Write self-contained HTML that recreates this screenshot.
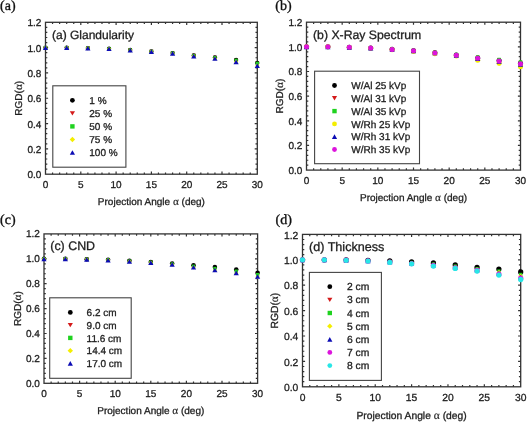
<!DOCTYPE html>
<html><head><meta charset="utf-8"><style>
html,body{margin:0;padding:0;background:#fff;width:528px;height:425px;overflow:hidden}
svg{display:block;will-change:transform}
svg text{text-rendering:geometricPrecision;font-family:"Liberation Sans",sans-serif;fill:#1e1e1e;stroke:#1e1e1e;stroke-width:0.3px}
svg tspan.al{font-family:"Liberation Serif",serif;stroke-width:0.15px;font-size:1.12em}
svg text.serif{font-family:"Liberation Serif",serif;fill:#111;stroke:#111;stroke-width:0.35px}
</style></head><body>
<svg width="528" height="425" viewBox="0 0 528 425">
<rect width="100%" height="100%" fill="#fff"/>
<text x="0" y="9.6" class="serif" font-size="14">(a)</text>
<rect x="45.50" y="22.30" width="211.80" height="151.90" fill="none" stroke="#333" stroke-width="1.3"/>
<path d="M52.56,174.20v-1.8M52.56,22.30v1.8M59.62,174.20v-1.8M59.62,22.30v1.8M66.68,174.20v-1.8M66.68,22.30v1.8M73.74,174.20v-1.8M73.74,22.30v1.8M80.80,174.20v-2.6M80.80,22.30v2.6M87.86,174.20v-1.8M87.86,22.30v1.8M94.92,174.20v-1.8M94.92,22.30v1.8M101.98,174.20v-1.8M101.98,22.30v1.8M109.04,174.20v-1.8M109.04,22.30v1.8M116.10,174.20v-2.6M116.10,22.30v2.6M123.16,174.20v-1.8M123.16,22.30v1.8M130.22,174.20v-1.8M130.22,22.30v1.8M137.28,174.20v-1.8M137.28,22.30v1.8M144.34,174.20v-1.8M144.34,22.30v1.8M151.40,174.20v-2.6M151.40,22.30v2.6M158.46,174.20v-1.8M158.46,22.30v1.8M165.52,174.20v-1.8M165.52,22.30v1.8M172.58,174.20v-1.8M172.58,22.30v1.8M179.64,174.20v-1.8M179.64,22.30v1.8M186.70,174.20v-2.6M186.70,22.30v2.6M193.76,174.20v-1.8M193.76,22.30v1.8M200.82,174.20v-1.8M200.82,22.30v1.8M207.88,174.20v-1.8M207.88,22.30v1.8M214.94,174.20v-1.8M214.94,22.30v1.8M222.00,174.20v-2.6M222.00,22.30v2.6M229.06,174.20v-1.8M229.06,22.30v1.8M236.12,174.20v-1.8M236.12,22.30v1.8M243.18,174.20v-1.8M243.18,22.30v1.8M250.24,174.20v-1.8M250.24,22.30v1.8M45.50,169.14h1.8M257.30,169.14h-1.8M45.50,164.07h1.8M257.30,164.07h-1.8M45.50,159.01h1.8M257.30,159.01h-1.8M45.50,153.95h1.8M257.30,153.95h-1.8M45.50,148.88h2.6M257.30,148.88h-2.6M45.50,143.82h1.8M257.30,143.82h-1.8M45.50,138.76h1.8M257.30,138.76h-1.8M45.50,133.69h1.8M257.30,133.69h-1.8M45.50,128.63h1.8M257.30,128.63h-1.8M45.50,123.57h2.6M257.30,123.57h-2.6M45.50,118.50h1.8M257.30,118.50h-1.8M45.50,113.44h1.8M257.30,113.44h-1.8M45.50,108.38h1.8M257.30,108.38h-1.8M45.50,103.31h1.8M257.30,103.31h-1.8M45.50,98.25h2.6M257.30,98.25h-2.6M45.50,93.19h1.8M257.30,93.19h-1.8M45.50,88.12h1.8M257.30,88.12h-1.8M45.50,83.06h1.8M257.30,83.06h-1.8M45.50,78.00h1.8M257.30,78.00h-1.8M45.50,72.93h2.6M257.30,72.93h-2.6M45.50,67.87h1.8M257.30,67.87h-1.8M45.50,62.81h1.8M257.30,62.81h-1.8M45.50,57.74h1.8M257.30,57.74h-1.8M45.50,52.68h1.8M257.30,52.68h-1.8M45.50,47.62h2.6M257.30,47.62h-2.6M45.50,42.55h1.8M257.30,42.55h-1.8M45.50,37.49h1.8M257.30,37.49h-1.8M45.50,32.43h1.8M257.30,32.43h-1.8M45.50,27.36h1.8M257.30,27.36h-1.8" stroke="#333" stroke-width="1.2" fill="none"/>
<text x="41.30" y="178.30" text-anchor="end" font-size="10">0.0</text>
<text x="41.30" y="152.98" text-anchor="end" font-size="10">0.2</text>
<text x="41.30" y="127.67" text-anchor="end" font-size="10">0.4</text>
<text x="41.30" y="102.35" text-anchor="end" font-size="10">0.6</text>
<text x="41.30" y="77.03" text-anchor="end" font-size="10">0.8</text>
<text x="41.30" y="51.72" text-anchor="end" font-size="10">1.0</text>
<text x="41.30" y="26.40" text-anchor="end" font-size="10">1.2</text>
<text x="45.50" y="188.00" text-anchor="middle" font-size="10">0</text>
<text x="80.80" y="188.00" text-anchor="middle" font-size="10">5</text>
<text x="116.10" y="188.00" text-anchor="middle" font-size="10">10</text>
<text x="151.40" y="188.00" text-anchor="middle" font-size="10">15</text>
<text x="186.70" y="188.00" text-anchor="middle" font-size="10">20</text>
<text x="222.00" y="188.00" text-anchor="middle" font-size="10">25</text>
<text x="257.30" y="188.00" text-anchor="middle" font-size="10">30</text>
<text x="151.40" y="205.00" text-anchor="middle" font-size="10">Projection Angle <tspan class="al">α</tspan> (deg)</text>
<text transform="translate(22.30,98.25) rotate(-90)" text-anchor="middle" font-size="10">RGD(<tspan class="al">α</tspan>)</text>
<text x="52.00" y="39.10" font-size="12">(a) Glandularity</text>
<rect x="52.80" y="85.80" width="73.10" height="81.40" fill="#fff" stroke="#444" stroke-width="1.1"/>
<circle cx="72.40" cy="100.30" r="2.40" fill="#000"/>
<text x="89.30" y="103.90" font-size="10">1 %</text>
<path d="M69.80,111.15L75.00,111.15L72.40,115.55Z" fill="#d41a1a"/>
<text x="89.30" y="116.95" font-size="10">25 %</text>
<rect x="70.20" y="124.20" width="4.40" height="4.40" fill="#1fd21f"/>
<text x="89.30" y="130.00" font-size="10">50 %</text>
<path d="M72.40,136.75L75.10,139.45L72.40,142.15L69.70,139.45Z" fill="#f4ee00"/>
<text x="89.30" y="143.05" font-size="10">75 %</text>
<path d="M69.80,154.85L75.00,154.85L72.40,150.15Z" fill="#0c0cb4"/>
<text x="89.30" y="156.10" font-size="10">100 %</text>
<path d="M43.55,45.97L47.45,45.97L45.50,49.27Z" fill="#d41a1a"/>
<path d="M64.73,45.97L68.63,45.97L66.68,49.27Z" fill="#d41a1a"/>
<path d="M85.91,46.47L89.81,46.47L87.86,49.77Z" fill="#d41a1a"/>
<path d="M107.09,47.11L110.99,47.11L109.04,50.41Z" fill="#d41a1a"/>
<path d="M128.27,48.37L132.17,48.37L130.22,51.67Z" fill="#d41a1a"/>
<path d="M149.45,49.76L153.35,49.76L151.40,53.06Z" fill="#d41a1a"/>
<path d="M170.63,51.41L174.53,51.41L172.58,54.71Z" fill="#d41a1a"/>
<path d="M191.81,53.81L195.71,53.81L193.76,57.11Z" fill="#d41a1a"/>
<path d="M212.99,55.84L216.89,55.84L214.94,59.14Z" fill="#d41a1a"/>
<path d="M234.17,58.37L238.07,58.37L236.12,61.67Z" fill="#d41a1a"/>
<path d="M255.35,61.28L259.25,61.28L257.30,64.58Z" fill="#d41a1a"/>
<circle cx="45.50" cy="47.62" r="2.16" fill="#000"/>
<circle cx="66.68" cy="47.62" r="2.16" fill="#000"/>
<circle cx="87.86" cy="48.12" r="2.16" fill="#000"/>
<circle cx="109.04" cy="48.76" r="2.16" fill="#000"/>
<circle cx="130.22" cy="50.02" r="2.16" fill="#000"/>
<circle cx="151.40" cy="51.41" r="2.16" fill="#000"/>
<circle cx="172.58" cy="53.06" r="2.16" fill="#000"/>
<circle cx="193.76" cy="55.46" r="2.16" fill="#000"/>
<circle cx="214.94" cy="57.49" r="2.16" fill="#000"/>
<circle cx="236.12" cy="60.02" r="2.16" fill="#000"/>
<circle cx="257.30" cy="62.93" r="2.16" fill="#000"/>
<rect x="43.85" y="45.97" width="3.30" height="3.30" fill="#1fd21f"/>
<rect x="65.03" y="45.97" width="3.30" height="3.30" fill="#1fd21f"/>
<rect x="86.21" y="46.47" width="3.30" height="3.30" fill="#1fd21f"/>
<rect x="107.39" y="47.11" width="3.30" height="3.30" fill="#1fd21f"/>
<rect x="128.57" y="48.39" width="3.30" height="3.30" fill="#1fd21f"/>
<rect x="149.75" y="49.80" width="3.30" height="3.30" fill="#1fd21f"/>
<rect x="170.93" y="51.47" width="3.30" height="3.30" fill="#1fd21f"/>
<rect x="192.11" y="53.91" width="3.30" height="3.30" fill="#1fd21f"/>
<rect x="213.29" y="55.99" width="3.30" height="3.30" fill="#1fd21f"/>
<rect x="234.47" y="58.66" width="3.30" height="3.30" fill="#1fd21f"/>
<rect x="255.65" y="61.70" width="3.30" height="3.30" fill="#1fd21f"/>
<path d="M45.50,45.59L47.52,47.62L45.50,49.64L43.48,47.62Z" fill="#f4ee00"/>
<path d="M66.68,45.59L68.71,47.62L66.68,49.64L64.66,47.62Z" fill="#f4ee00"/>
<path d="M87.86,46.10L89.89,48.12L87.86,50.15L85.83,48.12Z" fill="#f4ee00"/>
<path d="M109.04,46.73L111.07,48.76L109.04,50.78L107.02,48.76Z" fill="#f4ee00"/>
<path d="M130.22,48.11L132.25,50.14L130.22,52.16L128.19,50.14Z" fill="#f4ee00"/>
<path d="M151.40,49.62L153.43,51.64L151.40,53.67L149.38,51.64Z" fill="#f4ee00"/>
<path d="M172.58,51.38L174.61,53.40L172.58,55.43L170.56,53.40Z" fill="#f4ee00"/>
<path d="M193.76,54.01L195.79,56.03L193.76,58.06L191.74,56.03Z" fill="#f4ee00"/>
<path d="M214.94,56.38L216.97,58.40L214.94,60.43L212.91,58.40Z" fill="#f4ee00"/>
<path d="M236.12,59.71L238.15,61.73L236.12,63.76L234.09,61.73Z" fill="#f4ee00"/>
<path d="M257.30,63.41L259.32,65.44L257.30,67.46L255.28,65.44Z" fill="#f4ee00"/>
<path d="M42.90,49.97L48.10,49.97L45.50,45.27Z" fill="#0c0cb4"/>
<path d="M64.08,49.97L69.28,49.97L66.68,45.27Z" fill="#0c0cb4"/>
<path d="M85.26,50.47L90.46,50.47L87.86,45.77Z" fill="#0c0cb4"/>
<path d="M106.44,51.11L111.64,51.11L109.04,46.41Z" fill="#0c0cb4"/>
<path d="M127.62,52.50L132.82,52.50L130.22,47.80Z" fill="#0c0cb4"/>
<path d="M148.80,54.02L154.00,54.02L151.40,49.32Z" fill="#0c0cb4"/>
<path d="M169.98,55.79L175.18,55.79L172.58,51.09Z" fill="#0c0cb4"/>
<path d="M191.16,58.45L196.36,58.45L193.76,53.75Z" fill="#0c0cb4"/>
<path d="M212.34,60.85L217.54,60.85L214.94,56.15Z" fill="#0c0cb4"/>
<path d="M233.52,64.27L238.72,64.27L236.12,59.57Z" fill="#0c0cb4"/>
<path d="M254.70,68.07L259.90,68.07L257.30,63.37Z" fill="#0c0cb4"/>
<text x="275.3" y="9.6" class="serif" font-size="14">(b)</text>
<rect x="306.50" y="22.20" width="214.00" height="147.90" fill="none" stroke="#333" stroke-width="1.3"/>
<path d="M313.63,170.10v-1.8M313.63,22.20v1.8M320.77,170.10v-1.8M320.77,22.20v1.8M327.90,170.10v-1.8M327.90,22.20v1.8M335.03,170.10v-1.8M335.03,22.20v1.8M342.17,170.10v-2.6M342.17,22.20v2.6M349.30,170.10v-1.8M349.30,22.20v1.8M356.43,170.10v-1.8M356.43,22.20v1.8M363.57,170.10v-1.8M363.57,22.20v1.8M370.70,170.10v-1.8M370.70,22.20v1.8M377.83,170.10v-2.6M377.83,22.20v2.6M384.97,170.10v-1.8M384.97,22.20v1.8M392.10,170.10v-1.8M392.10,22.20v1.8M399.23,170.10v-1.8M399.23,22.20v1.8M406.37,170.10v-1.8M406.37,22.20v1.8M413.50,170.10v-2.6M413.50,22.20v2.6M420.63,170.10v-1.8M420.63,22.20v1.8M427.77,170.10v-1.8M427.77,22.20v1.8M434.90,170.10v-1.8M434.90,22.20v1.8M442.03,170.10v-1.8M442.03,22.20v1.8M449.17,170.10v-2.6M449.17,22.20v2.6M456.30,170.10v-1.8M456.30,22.20v1.8M463.43,170.10v-1.8M463.43,22.20v1.8M470.57,170.10v-1.8M470.57,22.20v1.8M477.70,170.10v-1.8M477.70,22.20v1.8M484.83,170.10v-2.6M484.83,22.20v2.6M491.97,170.10v-1.8M491.97,22.20v1.8M499.10,170.10v-1.8M499.10,22.20v1.8M506.23,170.10v-1.8M506.23,22.20v1.8M513.37,170.10v-1.8M513.37,22.20v1.8M306.50,165.17h1.8M520.50,165.17h-1.8M306.50,160.24h1.8M520.50,160.24h-1.8M306.50,155.31h1.8M520.50,155.31h-1.8M306.50,150.38h1.8M520.50,150.38h-1.8M306.50,145.45h2.6M520.50,145.45h-2.6M306.50,140.52h1.8M520.50,140.52h-1.8M306.50,135.59h1.8M520.50,135.59h-1.8M306.50,130.66h1.8M520.50,130.66h-1.8M306.50,125.73h1.8M520.50,125.73h-1.8M306.50,120.80h2.6M520.50,120.80h-2.6M306.50,115.87h1.8M520.50,115.87h-1.8M306.50,110.94h1.8M520.50,110.94h-1.8M306.50,106.01h1.8M520.50,106.01h-1.8M306.50,101.08h1.8M520.50,101.08h-1.8M306.50,96.15h2.6M520.50,96.15h-2.6M306.50,91.22h1.8M520.50,91.22h-1.8M306.50,86.29h1.8M520.50,86.29h-1.8M306.50,81.36h1.8M520.50,81.36h-1.8M306.50,76.43h1.8M520.50,76.43h-1.8M306.50,71.50h2.6M520.50,71.50h-2.6M306.50,66.57h1.8M520.50,66.57h-1.8M306.50,61.64h1.8M520.50,61.64h-1.8M306.50,56.71h1.8M520.50,56.71h-1.8M306.50,51.78h1.8M520.50,51.78h-1.8M306.50,46.85h2.6M520.50,46.85h-2.6M306.50,41.92h1.8M520.50,41.92h-1.8M306.50,36.99h1.8M520.50,36.99h-1.8M306.50,32.06h1.8M520.50,32.06h-1.8M306.50,27.13h1.8M520.50,27.13h-1.8" stroke="#333" stroke-width="1.2" fill="none"/>
<text x="302.30" y="173.90" text-anchor="end" font-size="10">0.0</text>
<text x="302.30" y="149.25" text-anchor="end" font-size="10">0.2</text>
<text x="302.30" y="124.60" text-anchor="end" font-size="10">0.4</text>
<text x="302.30" y="99.95" text-anchor="end" font-size="10">0.6</text>
<text x="302.30" y="75.30" text-anchor="end" font-size="10">0.8</text>
<text x="302.30" y="50.65" text-anchor="end" font-size="10">1.0</text>
<text x="302.30" y="26.00" text-anchor="end" font-size="10">1.2</text>
<text x="306.50" y="184.00" text-anchor="middle" font-size="10">0</text>
<text x="342.17" y="184.00" text-anchor="middle" font-size="10">5</text>
<text x="377.83" y="184.00" text-anchor="middle" font-size="10">10</text>
<text x="413.50" y="184.00" text-anchor="middle" font-size="10">15</text>
<text x="449.17" y="184.00" text-anchor="middle" font-size="10">20</text>
<text x="484.83" y="184.00" text-anchor="middle" font-size="10">25</text>
<text x="520.50" y="184.00" text-anchor="middle" font-size="10">30</text>
<text x="413.50" y="201.20" text-anchor="middle" font-size="10">Projection Angle <tspan class="al">α</tspan> (deg)</text>
<text transform="translate(283.10,96.15) rotate(-90)" text-anchor="middle" font-size="10">RGD(<tspan class="al">α</tspan>)</text>
<text x="313.00" y="39.10" font-size="12.25">(b) X-Ray Spectrum</text>
<rect x="314.60" y="71.20" width="104.90" height="92.50" fill="#fff" stroke="#444" stroke-width="1.1"/>
<circle cx="334.50" cy="85.50" r="2.40" fill="#000"/>
<text x="351.30" y="89.10" font-size="10">W/Al 25 kVp</text>
<path d="M331.90,96.10L337.10,96.10L334.50,100.50Z" fill="#d41a1a"/>
<text x="351.30" y="101.90" font-size="10">W/Al 31 kVp</text>
<rect x="332.30" y="108.90" width="4.40" height="4.40" fill="#1fd21f"/>
<text x="351.30" y="114.70" font-size="10">W/Al 35 kVp</text>
<circle cx="334.50" cy="123.90" r="2.40" fill="#f4ee00"/>
<text x="351.30" y="127.50" font-size="10">W/Rh 25 kVp</text>
<path d="M331.90,139.05L337.10,139.05L334.50,134.35Z" fill="#0c0cb4"/>
<text x="351.30" y="140.30" font-size="10">W/Rh 31 kVp</text>
<circle cx="334.50" cy="149.50" r="2.40" fill="#dc14dc"/>
<text x="351.30" y="153.10" font-size="10">W/Rh 35 kVp</text>
<circle cx="306.50" cy="46.85" r="2.52" fill="#000"/>
<circle cx="327.90" cy="46.85" r="2.52" fill="#000"/>
<circle cx="349.30" cy="47.29" r="2.52" fill="#000"/>
<circle cx="370.70" cy="47.98" r="2.52" fill="#000"/>
<circle cx="392.10" cy="49.29" r="2.52" fill="#000"/>
<circle cx="413.50" cy="50.67" r="2.52" fill="#000"/>
<circle cx="434.90" cy="52.77" r="2.52" fill="#000"/>
<circle cx="456.30" cy="54.97" r="2.52" fill="#000"/>
<circle cx="477.70" cy="57.92" r="2.52" fill="#000"/>
<circle cx="499.10" cy="60.60" r="2.52" fill="#000"/>
<circle cx="520.50" cy="63.37" r="2.52" fill="#000"/>
<path d="M304.55,45.20L308.45,45.20L306.50,48.50Z" fill="#d41a1a"/>
<path d="M325.95,45.20L329.85,45.20L327.90,48.50Z" fill="#d41a1a"/>
<path d="M347.35,45.59L351.25,45.59L349.30,48.89Z" fill="#d41a1a"/>
<path d="M368.75,46.24L372.65,46.24L370.70,49.54Z" fill="#d41a1a"/>
<path d="M390.15,47.49L394.05,47.49L392.10,50.79Z" fill="#d41a1a"/>
<path d="M411.55,48.77L415.45,48.77L413.50,52.07Z" fill="#d41a1a"/>
<path d="M432.95,50.87L436.85,50.87L434.90,54.17Z" fill="#d41a1a"/>
<path d="M454.35,53.00L458.25,53.00L456.30,56.30Z" fill="#d41a1a"/>
<path d="M475.75,55.63L479.65,55.63L477.70,58.93Z" fill="#d41a1a"/>
<path d="M497.15,58.17L501.05,58.17L499.10,61.47Z" fill="#d41a1a"/>
<path d="M518.55,60.73L522.45,60.73L520.50,64.03Z" fill="#d41a1a"/>
<rect x="304.85" y="45.20" width="3.30" height="3.30" fill="#1fd21f"/>
<rect x="326.25" y="45.20" width="3.30" height="3.30" fill="#1fd21f"/>
<rect x="347.65" y="45.57" width="3.30" height="3.30" fill="#1fd21f"/>
<rect x="369.05" y="46.19" width="3.30" height="3.30" fill="#1fd21f"/>
<rect x="390.45" y="47.42" width="3.30" height="3.30" fill="#1fd21f"/>
<rect x="411.85" y="48.65" width="3.30" height="3.30" fill="#1fd21f"/>
<rect x="433.25" y="50.75" width="3.30" height="3.30" fill="#1fd21f"/>
<rect x="454.65" y="52.84" width="3.30" height="3.30" fill="#1fd21f"/>
<rect x="476.05" y="55.31" width="3.30" height="3.30" fill="#1fd21f"/>
<rect x="497.45" y="57.77" width="3.30" height="3.30" fill="#1fd21f"/>
<rect x="518.85" y="60.24" width="3.30" height="3.30" fill="#1fd21f"/>
<circle cx="306.50" cy="46.85" r="2.52" fill="#f4ee00"/>
<circle cx="327.90" cy="46.85" r="2.52" fill="#f4ee00"/>
<circle cx="349.30" cy="47.47" r="2.52" fill="#f4ee00"/>
<circle cx="370.70" cy="48.33" r="2.52" fill="#f4ee00"/>
<circle cx="392.10" cy="49.81" r="2.52" fill="#f4ee00"/>
<circle cx="413.50" cy="51.53" r="2.52" fill="#f4ee00"/>
<circle cx="434.90" cy="53.63" r="2.52" fill="#f4ee00"/>
<circle cx="456.30" cy="56.09" r="2.52" fill="#f4ee00"/>
<circle cx="477.70" cy="60.16" r="2.52" fill="#f4ee00"/>
<circle cx="499.10" cy="63.37" r="2.52" fill="#f4ee00"/>
<circle cx="520.50" cy="66.82" r="2.52" fill="#f4ee00"/>
<path d="M303.90,49.20L309.10,49.20L306.50,44.50Z" fill="#0c0cb4"/>
<path d="M325.30,49.20L330.50,49.20L327.90,44.50Z" fill="#0c0cb4"/>
<path d="M346.70,49.69L351.90,49.69L349.30,44.99Z" fill="#0c0cb4"/>
<path d="M368.10,50.43L373.30,50.43L370.70,45.73Z" fill="#0c0cb4"/>
<path d="M389.50,51.79L394.70,51.79L392.10,47.09Z" fill="#0c0cb4"/>
<path d="M410.90,53.27L416.10,53.27L413.50,48.57Z" fill="#0c0cb4"/>
<path d="M432.30,55.36L437.50,55.36L434.90,50.66Z" fill="#0c0cb4"/>
<path d="M453.70,57.64L458.90,57.64L456.30,52.94Z" fill="#0c0cb4"/>
<path d="M475.10,60.91L480.30,60.91L477.70,56.21Z" fill="#0c0cb4"/>
<path d="M496.50,63.74L501.70,63.74L499.10,59.04Z" fill="#0c0cb4"/>
<path d="M517.90,66.70L523.10,66.70L520.50,62.00Z" fill="#0c0cb4"/>
<circle cx="306.50" cy="46.85" r="2.52" fill="#dc14dc"/>
<circle cx="327.90" cy="46.85" r="2.52" fill="#dc14dc"/>
<circle cx="349.30" cy="47.34" r="2.52" fill="#dc14dc"/>
<circle cx="370.70" cy="48.08" r="2.52" fill="#dc14dc"/>
<circle cx="392.10" cy="49.44" r="2.52" fill="#dc14dc"/>
<circle cx="413.50" cy="50.79" r="2.52" fill="#dc14dc"/>
<circle cx="434.90" cy="53.01" r="2.52" fill="#dc14dc"/>
<circle cx="456.30" cy="55.23" r="2.52" fill="#dc14dc"/>
<circle cx="477.70" cy="58.19" r="2.52" fill="#dc14dc"/>
<circle cx="499.10" cy="60.90" r="2.52" fill="#dc14dc"/>
<circle cx="520.50" cy="63.86" r="2.52" fill="#dc14dc"/>
<text x="0" y="224.4" class="serif" font-size="14">(c)</text>
<rect x="44.00" y="233.90" width="213.60" height="149.40" fill="none" stroke="#333" stroke-width="1.3"/>
<path d="M51.12,383.30v-1.8M51.12,233.90v1.8M58.24,383.30v-1.8M58.24,233.90v1.8M65.36,383.30v-1.8M65.36,233.90v1.8M72.48,383.30v-1.8M72.48,233.90v1.8M79.60,383.30v-2.6M79.60,233.90v2.6M86.72,383.30v-1.8M86.72,233.90v1.8M93.84,383.30v-1.8M93.84,233.90v1.8M100.96,383.30v-1.8M100.96,233.90v1.8M108.08,383.30v-1.8M108.08,233.90v1.8M115.20,383.30v-2.6M115.20,233.90v2.6M122.32,383.30v-1.8M122.32,233.90v1.8M129.44,383.30v-1.8M129.44,233.90v1.8M136.56,383.30v-1.8M136.56,233.90v1.8M143.68,383.30v-1.8M143.68,233.90v1.8M150.80,383.30v-2.6M150.80,233.90v2.6M157.92,383.30v-1.8M157.92,233.90v1.8M165.04,383.30v-1.8M165.04,233.90v1.8M172.16,383.30v-1.8M172.16,233.90v1.8M179.28,383.30v-1.8M179.28,233.90v1.8M186.40,383.30v-2.6M186.40,233.90v2.6M193.52,383.30v-1.8M193.52,233.90v1.8M200.64,383.30v-1.8M200.64,233.90v1.8M207.76,383.30v-1.8M207.76,233.90v1.8M214.88,383.30v-1.8M214.88,233.90v1.8M222.00,383.30v-2.6M222.00,233.90v2.6M229.12,383.30v-1.8M229.12,233.90v1.8M236.24,383.30v-1.8M236.24,233.90v1.8M243.36,383.30v-1.8M243.36,233.90v1.8M250.48,383.30v-1.8M250.48,233.90v1.8M44.00,378.32h1.8M257.60,378.32h-1.8M44.00,373.34h1.8M257.60,373.34h-1.8M44.00,368.36h1.8M257.60,368.36h-1.8M44.00,363.38h1.8M257.60,363.38h-1.8M44.00,358.40h2.6M257.60,358.40h-2.6M44.00,353.42h1.8M257.60,353.42h-1.8M44.00,348.44h1.8M257.60,348.44h-1.8M44.00,343.46h1.8M257.60,343.46h-1.8M44.00,338.48h1.8M257.60,338.48h-1.8M44.00,333.50h2.6M257.60,333.50h-2.6M44.00,328.52h1.8M257.60,328.52h-1.8M44.00,323.54h1.8M257.60,323.54h-1.8M44.00,318.56h1.8M257.60,318.56h-1.8M44.00,313.58h1.8M257.60,313.58h-1.8M44.00,308.60h2.6M257.60,308.60h-2.6M44.00,303.62h1.8M257.60,303.62h-1.8M44.00,298.64h1.8M257.60,298.64h-1.8M44.00,293.66h1.8M257.60,293.66h-1.8M44.00,288.68h1.8M257.60,288.68h-1.8M44.00,283.70h2.6M257.60,283.70h-2.6M44.00,278.72h1.8M257.60,278.72h-1.8M44.00,273.74h1.8M257.60,273.74h-1.8M44.00,268.76h1.8M257.60,268.76h-1.8M44.00,263.78h1.8M257.60,263.78h-1.8M44.00,258.80h2.6M257.60,258.80h-2.6M44.00,253.82h1.8M257.60,253.82h-1.8M44.00,248.84h1.8M257.60,248.84h-1.8M44.00,243.86h1.8M257.60,243.86h-1.8M44.00,238.88h1.8M257.60,238.88h-1.8" stroke="#333" stroke-width="1.2" fill="none"/>
<text x="39.80" y="386.80" text-anchor="end" font-size="10">0.0</text>
<text x="39.80" y="361.90" text-anchor="end" font-size="10">0.2</text>
<text x="39.80" y="337.00" text-anchor="end" font-size="10">0.4</text>
<text x="39.80" y="312.10" text-anchor="end" font-size="10">0.6</text>
<text x="39.80" y="287.20" text-anchor="end" font-size="10">0.8</text>
<text x="39.80" y="262.30" text-anchor="end" font-size="10">1.0</text>
<text x="39.80" y="237.40" text-anchor="end" font-size="10">1.2</text>
<text x="44.00" y="397.00" text-anchor="middle" font-size="10">0</text>
<text x="79.60" y="397.00" text-anchor="middle" font-size="10">5</text>
<text x="115.20" y="397.00" text-anchor="middle" font-size="10">10</text>
<text x="150.80" y="397.00" text-anchor="middle" font-size="10">15</text>
<text x="186.40" y="397.00" text-anchor="middle" font-size="10">20</text>
<text x="222.00" y="397.00" text-anchor="middle" font-size="10">25</text>
<text x="257.60" y="397.00" text-anchor="middle" font-size="10">30</text>
<text x="150.80" y="414.20" text-anchor="middle" font-size="10">Projection Angle <tspan class="al">α</tspan> (deg)</text>
<text transform="translate(21.20,308.60) rotate(-90)" text-anchor="middle" font-size="10">RGD(<tspan class="al">α</tspan>)</text>
<text x="50.30" y="249.80" font-size="12.4">(c) CND</text>
<rect x="49.70" y="297.80" width="81.50" height="80.50" fill="#fff" stroke="#444" stroke-width="1.1"/>
<circle cx="70.30" cy="312.40" r="2.40" fill="#000"/>
<text x="86.60" y="316.00" font-size="10">6.2 cm</text>
<path d="M67.70,322.95L72.90,322.95L70.30,327.35Z" fill="#d41a1a"/>
<text x="86.60" y="328.75" font-size="10">9.0 cm</text>
<rect x="68.10" y="335.70" width="4.40" height="4.40" fill="#1fd21f"/>
<text x="86.60" y="341.50" font-size="10">11.6 cm</text>
<path d="M70.30,347.95L73.00,350.65L70.30,353.35L67.60,350.65Z" fill="#f4ee00"/>
<text x="86.60" y="354.25" font-size="10">14.4 cm</text>
<path d="M67.70,365.75L72.90,365.75L70.30,361.05Z" fill="#0c0cb4"/>
<text x="86.60" y="367.00" font-size="10">17.0 cm</text>
<path d="M42.05,257.15L45.95,257.15L44.00,260.45Z" fill="#d41a1a"/>
<path d="M63.41,257.15L67.31,257.15L65.36,260.45Z" fill="#d41a1a"/>
<path d="M84.77,257.57L88.67,257.57L86.72,260.87Z" fill="#d41a1a"/>
<path d="M106.13,258.17L110.03,258.17L108.08,261.47Z" fill="#d41a1a"/>
<path d="M127.49,259.34L131.39,259.34L129.44,262.64Z" fill="#d41a1a"/>
<path d="M148.85,260.59L152.75,260.59L150.80,263.89Z" fill="#d41a1a"/>
<path d="M170.21,262.23L174.11,262.23L172.16,265.53Z" fill="#d41a1a"/>
<path d="M191.57,264.42L195.47,264.42L193.52,267.72Z" fill="#d41a1a"/>
<path d="M212.93,266.56L216.83,266.56L214.88,269.86Z" fill="#d41a1a"/>
<path d="M234.29,269.20L238.19,269.20L236.24,272.50Z" fill="#d41a1a"/>
<path d="M255.65,272.59L259.55,272.59L257.60,275.89Z" fill="#d41a1a"/>
<circle cx="44.00" cy="258.80" r="2.28" fill="#000"/>
<circle cx="65.36" cy="258.80" r="2.28" fill="#000"/>
<circle cx="86.72" cy="259.17" r="2.28" fill="#000"/>
<circle cx="108.08" cy="259.67" r="2.28" fill="#000"/>
<circle cx="129.44" cy="260.79" r="2.28" fill="#000"/>
<circle cx="150.80" cy="262.04" r="2.28" fill="#000"/>
<circle cx="172.16" cy="263.53" r="2.28" fill="#000"/>
<circle cx="193.52" cy="265.27" r="2.28" fill="#000"/>
<circle cx="214.88" cy="267.02" r="2.28" fill="#000"/>
<circle cx="236.24" cy="269.51" r="2.28" fill="#000"/>
<circle cx="257.60" cy="272.74" r="2.28" fill="#000"/>
<rect x="42.35" y="257.15" width="3.30" height="3.30" fill="#1fd21f"/>
<rect x="63.71" y="257.15" width="3.30" height="3.30" fill="#1fd21f"/>
<rect x="85.07" y="257.59" width="3.30" height="3.30" fill="#1fd21f"/>
<rect x="106.43" y="258.21" width="3.30" height="3.30" fill="#1fd21f"/>
<rect x="127.79" y="259.39" width="3.30" height="3.30" fill="#1fd21f"/>
<rect x="149.15" y="260.64" width="3.30" height="3.30" fill="#1fd21f"/>
<rect x="170.51" y="262.32" width="3.30" height="3.30" fill="#1fd21f"/>
<rect x="191.87" y="264.62" width="3.30" height="3.30" fill="#1fd21f"/>
<rect x="213.23" y="266.86" width="3.30" height="3.30" fill="#1fd21f"/>
<rect x="234.59" y="269.54" width="3.30" height="3.30" fill="#1fd21f"/>
<rect x="255.95" y="272.96" width="3.30" height="3.30" fill="#1fd21f"/>
<path d="M44.00,256.78L46.02,258.80L44.00,260.82L41.98,258.80Z" fill="#f4ee00"/>
<path d="M65.36,256.78L67.39,258.80L65.36,260.82L63.34,258.80Z" fill="#f4ee00"/>
<path d="M86.72,257.29L88.75,259.31L86.72,261.34L84.69,259.31Z" fill="#f4ee00"/>
<path d="M108.08,258.06L110.11,260.08L108.08,262.11L106.06,260.08Z" fill="#f4ee00"/>
<path d="M129.44,259.31L131.47,261.34L129.44,263.36L127.41,261.34Z" fill="#f4ee00"/>
<path d="M150.80,260.56L152.83,262.58L150.80,264.61L148.78,262.58Z" fill="#f4ee00"/>
<path d="M172.16,262.46L174.19,264.49L172.16,266.51L170.14,264.49Z" fill="#f4ee00"/>
<path d="M193.52,265.44L195.55,267.47L193.52,269.49L191.50,267.47Z" fill="#f4ee00"/>
<path d="M214.88,268.28L216.91,270.30L214.88,272.33L212.86,270.30Z" fill="#f4ee00"/>
<path d="M236.24,271.18L238.27,273.20L236.24,275.23L234.22,273.20Z" fill="#f4ee00"/>
<path d="M257.60,274.83L259.62,276.85L257.60,278.88L255.58,276.85Z" fill="#f4ee00"/>
<path d="M41.40,261.15L46.60,261.15L44.00,256.45Z" fill="#0c0cb4"/>
<path d="M62.76,261.15L67.96,261.15L65.36,256.45Z" fill="#0c0cb4"/>
<path d="M84.12,261.65L89.32,261.65L86.72,256.95Z" fill="#0c0cb4"/>
<path d="M105.48,262.40L110.68,262.40L108.08,257.69Z" fill="#0c0cb4"/>
<path d="M126.84,263.64L132.04,263.64L129.44,258.94Z" fill="#0c0cb4"/>
<path d="M148.20,264.88L153.40,264.88L150.80,260.18Z" fill="#0c0cb4"/>
<path d="M169.56,266.75L174.76,266.75L172.16,262.05Z" fill="#0c0cb4"/>
<path d="M190.92,269.62L196.12,269.62L193.52,264.92Z" fill="#0c0cb4"/>
<path d="M212.28,272.36L217.48,272.36L214.88,267.65Z" fill="#0c0cb4"/>
<path d="M233.64,275.22L238.84,275.22L236.24,270.52Z" fill="#0c0cb4"/>
<path d="M255.00,278.83L260.20,278.83L257.60,274.13Z" fill="#0c0cb4"/>
<text x="275.5" y="224.4" class="serif" font-size="14">(d)</text>
<rect x="302.50" y="234.40" width="218.20" height="152.40" fill="none" stroke="#333" stroke-width="1.3"/>
<path d="M309.77,386.80v-1.8M309.77,234.40v1.8M317.05,386.80v-1.8M317.05,234.40v1.8M324.32,386.80v-1.8M324.32,234.40v1.8M331.59,386.80v-1.8M331.59,234.40v1.8M338.87,386.80v-2.6M338.87,234.40v2.6M346.14,386.80v-1.8M346.14,234.40v1.8M353.41,386.80v-1.8M353.41,234.40v1.8M360.69,386.80v-1.8M360.69,234.40v1.8M367.96,386.80v-1.8M367.96,234.40v1.8M375.23,386.80v-2.6M375.23,234.40v2.6M382.51,386.80v-1.8M382.51,234.40v1.8M389.78,386.80v-1.8M389.78,234.40v1.8M397.05,386.80v-1.8M397.05,234.40v1.8M404.33,386.80v-1.8M404.33,234.40v1.8M411.60,386.80v-2.6M411.60,234.40v2.6M418.87,386.80v-1.8M418.87,234.40v1.8M426.15,386.80v-1.8M426.15,234.40v1.8M433.42,386.80v-1.8M433.42,234.40v1.8M440.69,386.80v-1.8M440.69,234.40v1.8M447.97,386.80v-2.6M447.97,234.40v2.6M455.24,386.80v-1.8M455.24,234.40v1.8M462.51,386.80v-1.8M462.51,234.40v1.8M469.79,386.80v-1.8M469.79,234.40v1.8M477.06,386.80v-1.8M477.06,234.40v1.8M484.33,386.80v-2.6M484.33,234.40v2.6M491.61,386.80v-1.8M491.61,234.40v1.8M498.88,386.80v-1.8M498.88,234.40v1.8M506.15,386.80v-1.8M506.15,234.40v1.8M513.43,386.80v-1.8M513.43,234.40v1.8M302.50,381.72h1.8M520.70,381.72h-1.8M302.50,376.64h1.8M520.70,376.64h-1.8M302.50,371.56h1.8M520.70,371.56h-1.8M302.50,366.48h1.8M520.70,366.48h-1.8M302.50,361.40h2.6M520.70,361.40h-2.6M302.50,356.32h1.8M520.70,356.32h-1.8M302.50,351.24h1.8M520.70,351.24h-1.8M302.50,346.16h1.8M520.70,346.16h-1.8M302.50,341.08h1.8M520.70,341.08h-1.8M302.50,336.00h2.6M520.70,336.00h-2.6M302.50,330.92h1.8M520.70,330.92h-1.8M302.50,325.84h1.8M520.70,325.84h-1.8M302.50,320.76h1.8M520.70,320.76h-1.8M302.50,315.68h1.8M520.70,315.68h-1.8M302.50,310.60h2.6M520.70,310.60h-2.6M302.50,305.52h1.8M520.70,305.52h-1.8M302.50,300.44h1.8M520.70,300.44h-1.8M302.50,295.36h1.8M520.70,295.36h-1.8M302.50,290.28h1.8M520.70,290.28h-1.8M302.50,285.20h2.6M520.70,285.20h-2.6M302.50,280.12h1.8M520.70,280.12h-1.8M302.50,275.04h1.8M520.70,275.04h-1.8M302.50,269.96h1.8M520.70,269.96h-1.8M302.50,264.88h1.8M520.70,264.88h-1.8M302.50,259.80h2.6M520.70,259.80h-2.6M302.50,254.72h1.8M520.70,254.72h-1.8M302.50,249.64h1.8M520.70,249.64h-1.8M302.50,244.56h1.8M520.70,244.56h-1.8M302.50,239.48h1.8M520.70,239.48h-1.8" stroke="#333" stroke-width="1.2" fill="none"/>
<text x="298.30" y="390.90" text-anchor="end" font-size="10.3">0.0</text>
<text x="298.30" y="365.50" text-anchor="end" font-size="10.3">0.2</text>
<text x="298.30" y="340.10" text-anchor="end" font-size="10.3">0.4</text>
<text x="298.30" y="314.70" text-anchor="end" font-size="10.3">0.6</text>
<text x="298.30" y="289.30" text-anchor="end" font-size="10.3">0.8</text>
<text x="298.30" y="263.90" text-anchor="end" font-size="10.3">1.0</text>
<text x="298.30" y="238.50" text-anchor="end" font-size="10.3">1.2</text>
<text x="302.50" y="401.00" text-anchor="middle" font-size="10.3">0</text>
<text x="338.87" y="401.00" text-anchor="middle" font-size="10.3">5</text>
<text x="375.23" y="401.00" text-anchor="middle" font-size="10.3">10</text>
<text x="411.60" y="401.00" text-anchor="middle" font-size="10.3">15</text>
<text x="447.97" y="401.00" text-anchor="middle" font-size="10.3">20</text>
<text x="484.33" y="401.00" text-anchor="middle" font-size="10.3">25</text>
<text x="520.70" y="401.00" text-anchor="middle" font-size="10.3">30</text>
<text x="411.60" y="418.50" text-anchor="middle" font-size="10.3">Projection Angle <tspan class="al">α</tspan> (deg)</text>
<text transform="translate(278.40,310.60) rotate(-90)" text-anchor="middle" font-size="10.3">RGD(<tspan class="al">α</tspan>)</text>
<text x="309.00" y="250.50" font-size="12.6">(d) Thickness</text>
<rect x="309.40" y="272.40" width="72.00" height="108.00" fill="#fff" stroke="#444" stroke-width="1.1"/>
<circle cx="329.80" cy="286.70" r="2.40" fill="#000"/>
<text x="346.90" y="290.30" font-size="10.3">2 cm</text>
<path d="M327.20,297.65L332.40,297.65L329.80,302.05Z" fill="#d41a1a"/>
<text x="346.90" y="303.45" font-size="10.3">3 cm</text>
<rect x="327.60" y="310.80" width="4.40" height="4.40" fill="#1fd21f"/>
<text x="346.90" y="316.60" font-size="10.3">4 cm</text>
<path d="M329.80,323.45L332.50,326.15L329.80,328.85L327.10,326.15Z" fill="#f4ee00"/>
<text x="346.90" y="329.75" font-size="10.3">5 cm</text>
<path d="M327.20,341.65L332.40,341.65L329.80,336.95Z" fill="#0c0cb4"/>
<text x="346.90" y="342.90" font-size="10.3">6 cm</text>
<circle cx="329.80" cy="352.45" r="2.40" fill="#dc14dc"/>
<text x="346.90" y="356.05" font-size="10.3">7 cm</text>
<circle cx="329.80" cy="365.60" r="2.40" fill="#28e6e6"/>
<text x="346.90" y="369.20" font-size="10.3">8 cm</text>
<path d="M300.55,258.15L304.45,258.15L302.50,261.45Z" fill="#d41a1a"/>
<path d="M322.37,258.15L326.27,258.15L324.32,261.45Z" fill="#d41a1a"/>
<path d="M344.19,258.41L348.09,258.41L346.14,261.71Z" fill="#d41a1a"/>
<path d="M366.01,258.92L369.91,258.92L367.96,262.22Z" fill="#d41a1a"/>
<path d="M387.83,259.83L391.73,259.83L389.78,263.13Z" fill="#d41a1a"/>
<path d="M409.65,260.89L413.55,260.89L411.60,264.19Z" fill="#d41a1a"/>
<path d="M431.47,262.39L435.37,262.39L433.42,265.69Z" fill="#d41a1a"/>
<path d="M453.29,264.47L457.19,264.47L455.24,267.77Z" fill="#d41a1a"/>
<path d="M475.11,267.06L479.01,267.06L477.06,270.36Z" fill="#d41a1a"/>
<path d="M496.93,269.51L500.83,269.51L498.88,272.81Z" fill="#d41a1a"/>
<path d="M518.75,272.96L522.65,272.96L520.70,276.26Z" fill="#d41a1a"/>
<circle cx="302.50" cy="259.80" r="2.64" fill="#000"/>
<circle cx="324.32" cy="259.80" r="2.64" fill="#000"/>
<circle cx="346.14" cy="259.93" r="2.64" fill="#000"/>
<circle cx="367.96" cy="260.31" r="2.64" fill="#000"/>
<circle cx="389.78" cy="260.94" r="2.64" fill="#000"/>
<circle cx="411.60" cy="261.83" r="2.64" fill="#000"/>
<circle cx="433.42" cy="262.98" r="2.64" fill="#000"/>
<circle cx="455.24" cy="264.88" r="2.64" fill="#000"/>
<circle cx="477.06" cy="267.42" r="2.64" fill="#000"/>
<circle cx="498.88" cy="269.07" r="2.64" fill="#000"/>
<circle cx="520.70" cy="271.99" r="2.64" fill="#000"/>
<rect x="300.85" y="258.15" width="3.30" height="3.30" fill="#1fd21f"/>
<rect x="322.67" y="258.15" width="3.30" height="3.30" fill="#1fd21f"/>
<rect x="344.49" y="258.40" width="3.30" height="3.30" fill="#1fd21f"/>
<rect x="366.31" y="258.91" width="3.30" height="3.30" fill="#1fd21f"/>
<rect x="388.13" y="259.80" width="3.30" height="3.30" fill="#1fd21f"/>
<rect x="409.95" y="260.86" width="3.30" height="3.30" fill="#1fd21f"/>
<rect x="431.77" y="262.34" width="3.30" height="3.30" fill="#1fd21f"/>
<rect x="453.59" y="264.42" width="3.30" height="3.30" fill="#1fd21f"/>
<rect x="475.41" y="267.00" width="3.30" height="3.30" fill="#1fd21f"/>
<rect x="497.23" y="269.41" width="3.30" height="3.30" fill="#1fd21f"/>
<rect x="519.05" y="272.84" width="3.30" height="3.30" fill="#1fd21f"/>
<path d="M302.50,257.78L304.52,259.80L302.50,261.82L300.48,259.80Z" fill="#f4ee00"/>
<path d="M324.32,257.78L326.34,259.80L324.32,261.82L322.30,259.80Z" fill="#f4ee00"/>
<path d="M346.14,258.09L348.16,260.12L346.14,262.14L344.12,260.12Z" fill="#f4ee00"/>
<path d="M367.96,258.66L369.99,260.69L367.96,262.71L365.94,260.69Z" fill="#f4ee00"/>
<path d="M389.78,259.68L391.81,261.70L389.78,263.73L387.76,261.70Z" fill="#f4ee00"/>
<path d="M411.60,260.82L413.62,262.85L411.60,264.87L409.58,262.85Z" fill="#f4ee00"/>
<path d="M433.42,262.47L435.45,264.50L433.42,266.52L431.40,264.50Z" fill="#f4ee00"/>
<path d="M455.24,264.63L457.26,266.66L455.24,268.68L453.22,266.66Z" fill="#f4ee00"/>
<path d="M477.06,267.24L479.09,269.26L477.06,271.29L475.04,269.26Z" fill="#f4ee00"/>
<path d="M498.88,270.03L500.91,272.06L498.88,274.08L496.86,272.06Z" fill="#f4ee00"/>
<path d="M520.70,273.71L522.73,275.74L520.70,277.76L518.68,275.74Z" fill="#f4ee00"/>
<path d="M299.90,262.15L305.10,262.15L302.50,257.45Z" fill="#0c0cb4"/>
<path d="M321.72,262.15L326.92,262.15L324.32,257.45Z" fill="#0c0cb4"/>
<path d="M343.54,262.53L348.74,262.53L346.14,257.83Z" fill="#0c0cb4"/>
<path d="M365.36,263.17L370.56,263.17L367.96,258.47Z" fill="#0c0cb4"/>
<path d="M387.18,264.31L392.38,264.31L389.78,259.61Z" fill="#0c0cb4"/>
<path d="M409.00,265.54L414.20,265.54L411.60,260.84Z" fill="#0c0cb4"/>
<path d="M430.82,267.36L436.02,267.36L433.42,262.66Z" fill="#0c0cb4"/>
<path d="M452.64,269.60L457.84,269.60L455.24,264.90Z" fill="#0c0cb4"/>
<path d="M474.46,272.23L479.66,272.23L477.06,267.53Z" fill="#0c0cb4"/>
<path d="M496.28,275.40L501.48,275.40L498.88,270.70Z" fill="#0c0cb4"/>
<path d="M518.10,279.34L523.30,279.34L520.70,274.64Z" fill="#0c0cb4"/>
<circle cx="302.50" cy="259.80" r="2.64" fill="#dc14dc"/>
<circle cx="324.32" cy="259.80" r="2.64" fill="#dc14dc"/>
<circle cx="346.14" cy="260.24" r="2.64" fill="#dc14dc"/>
<circle cx="367.96" cy="260.94" r="2.64" fill="#dc14dc"/>
<circle cx="389.78" cy="262.21" r="2.64" fill="#dc14dc"/>
<circle cx="411.60" cy="263.53" r="2.64" fill="#dc14dc"/>
<circle cx="433.42" cy="265.51" r="2.64" fill="#dc14dc"/>
<circle cx="455.24" cy="267.84" r="2.64" fill="#dc14dc"/>
<circle cx="477.06" cy="270.49" r="2.64" fill="#dc14dc"/>
<circle cx="498.88" cy="274.05" r="2.64" fill="#dc14dc"/>
<circle cx="520.70" cy="278.24" r="2.64" fill="#dc14dc"/>
<circle cx="302.50" cy="259.80" r="2.64" fill="#28e6e6"/>
<circle cx="324.32" cy="259.80" r="2.64" fill="#28e6e6"/>
<circle cx="346.14" cy="260.31" r="2.64" fill="#28e6e6"/>
<circle cx="367.96" cy="261.07" r="2.64" fill="#28e6e6"/>
<circle cx="389.78" cy="262.47" r="2.64" fill="#28e6e6"/>
<circle cx="411.60" cy="263.86" r="2.64" fill="#28e6e6"/>
<circle cx="433.42" cy="266.02" r="2.64" fill="#28e6e6"/>
<circle cx="455.24" cy="268.44" r="2.64" fill="#28e6e6"/>
<circle cx="477.06" cy="271.10" r="2.64" fill="#28e6e6"/>
<circle cx="498.88" cy="275.04" r="2.64" fill="#28e6e6"/>
<circle cx="520.70" cy="279.49" r="2.64" fill="#28e6e6"/>
</svg>
</body></html>
